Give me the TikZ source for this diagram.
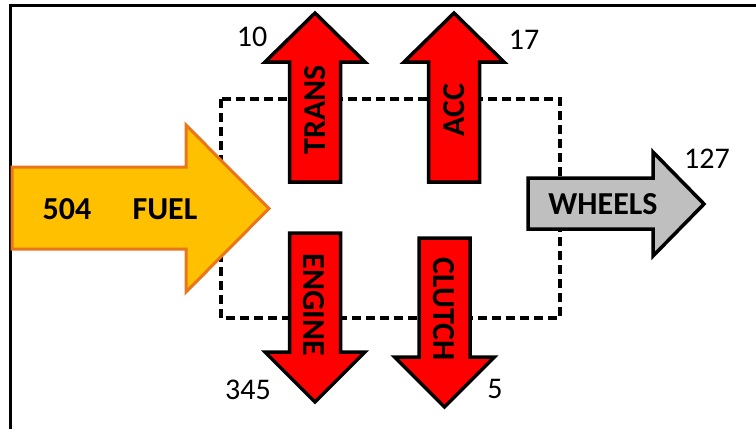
\documentclass[tikz,border=0pt]{standalone}
\usepackage{fontspec}
\setmainfont{Carlito}
\definecolor{fuelfill}{HTML}{FFC000}
\definecolor{fueledge}{HTML}{E8761A}
\definecolor{wheelfill}{HTML}{BFBFBF}
\definecolor{lossred}{HTML}{FF0000}
\begin{document}
\begin{tikzpicture}[x=1pt,y=-1pt,
  frame/.style={line width=3pt},
  boundary/.style={line width=3.2pt,dash pattern=on 9pt off 5pt},
  lossarrow/.style={fill=lossred,draw=black,line width=3.5pt,miter limit=10},
  fuelarrow/.style={fill=fuelfill,draw=fueledge,line width=3pt,miter limit=10},
  wheelarrow/.style={fill=wheelfill,draw=black,line width=3.5pt,miter limit=10},
  flowlabel/.style={font=\fontsize{32}{38}\selectfont\bfseries,inner sep=0pt},
  amount/.style={font=\fontsize{30}{36}\selectfont,inner sep=0pt}]
\useasboundingbox (0,0) rectangle (756,429);

% outer frame (top and left edges)
\draw[frame] (756,5) -- (10,5) -- (10,429);

% system boundary
\draw[boundary] (221,99) rectangle (560,318);

% fuel input
\draw[fuelarrow] (12,167) -- (186,167) -- (186,125) -- (269,208.5)
  -- (186,292) -- (186,249) -- (12,249) -- cycle;
\node[flowlabel] (fuelnum) at (67,209) {504};
\node[flowlabel] (fuel) at (165,209) {FUEL};

% useful output
\draw[wheelarrow] (528,178) -- (653,178) -- (653,152) -- (704,204)
  -- (653,256) -- (653,229) -- (528,229) -- cycle;
\node[flowlabel] (wheels) at (603,204) {WHEELS};
\node[amount] (wheelsnum) at (707,159) {127};

% losses leaving upwards
\draw[lossarrow] (289.5,182) -- (289.5,62) -- (265,62) -- (315,13)
  -- (365,62) -- (340.5,62) -- (340.5,182) -- cycle;
\node[flowlabel,rotate=90] (trans) at (315,110) {TRANS};
\node[amount] (transnum) at (252,37) {10};

\draw[lossarrow] (428.5,182) -- (428.5,62) -- (404,62) -- (454,13)
  -- (504,62) -- (479.5,62) -- (479.5,182) -- cycle;
\node[flowlabel,rotate=90] (acc) at (454,110) {ACC};
\node[amount] (accnum) at (524,40) {17};

% losses leaving downwards
\draw[lossarrow] (289.5,233) -- (289.5,352) -- (265,352) -- (315,402)
  -- (365,352) -- (340.5,352) -- (340.5,233) -- cycle;
\node[flowlabel,rotate=-90] (engine) at (314,305) {ENGINE};
\node[amount] (enginenum) at (248,390) {345};

\draw[lossarrow] (419,238) -- (419,357) -- (394.5,357) -- (444.5,407)
  -- (494.5,357) -- (470,357) -- (470,238) -- cycle;
\node[flowlabel,rotate=-90] (clutch) at (444,309) {CLUTCH};
\node[amount] (clutchnum) at (495,389) {5};
\end{tikzpicture}
\end{document}
